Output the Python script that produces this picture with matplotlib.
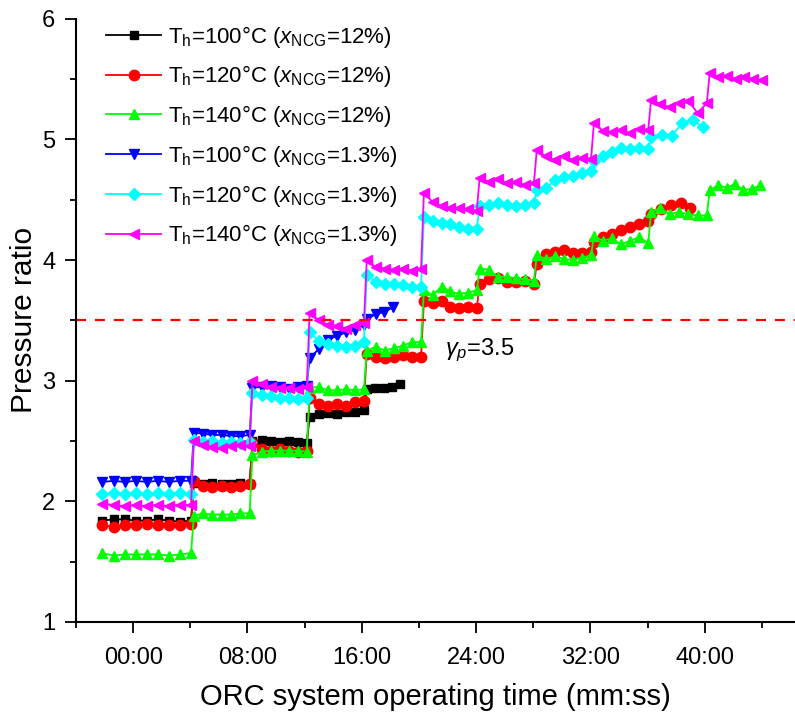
import numpy as np
import matplotlib
matplotlib.use("Agg")
import matplotlib.pyplot as plt
from matplotlib.ticker import FuncFormatter, MultipleLocator

plt.rcParams["font.family"] = ["Liberation Sans", "DejaVu Sans"]
plt.rcParams["mathtext.fontset"] = "custom"
plt.rcParams["mathtext.rm"] = "Liberation Sans"
plt.rcParams["mathtext.it"] = "Liberation Sans:italic"

# step start times (minutes); each setpoint lasts ~4 min
STEP_START = [-2.3, 4.1, 8.2, 12.2, 16.2, 20.2, 24.1, 28.1, 32.1, 36.1, 40.2]

LABELS = [
    r"T$_{\rm h}$=100°C ($x_{\rm NCG}$=12%)",
    r"T$_{\rm h}$=120°C ($x_{\rm NCG}$=12%)",
    r"T$_{\rm h}$=140°C ($x_{\rm NCG}$=12%)",
    r"T$_{\rm h}$=100°C ($x_{\rm NCG}$=1.3%)",
    r"T$_{\rm h}$=120°C ($x_{\rm NCG}$=1.3%)",
    r"T$_{\rm h}$=140°C ($x_{\rm NCG}$=1.3%)",
]

# pressure ratio readings per step
black_steps = [
    [1.84, 1.85, 1.85, 1.84, 1.84, 1.85, 1.84, 1.83, 1.84],
    [2.15, 2.14, 2.15, 2.14, 2.14, 2.15, 2.14],
    [2.50, 2.51, 2.50, 2.49, 2.50, 2.49, 2.48],
    [2.70, 2.72, 2.73, 2.72, 2.74, 2.74, 2.76],
    [2.93, 2.94, 2.94, 2.95, 2.97],
]
red_steps = [
    [1.80, 1.79, 1.80, 1.80, 1.81, 1.80, 1.80, 1.80, 1.81],
    [2.17, 2.13, 2.12, 2.13, 2.12, 2.13, 2.14],
    [2.48, 2.43, 2.42, 2.43, 2.42, 2.41, 2.42],
    [2.86, 2.81, 2.79, 2.81, 2.79, 2.82, 2.83],
    [3.22, 3.20, 3.19, 3.20, 3.21, 3.20, 3.20],
    [3.66, 3.64, 3.66, 3.61, 3.60, 3.61, 3.60],
    [3.80, 3.84, 3.85, 3.82, 3.82, 3.83, 3.80],
    [3.97, 4.05, 4.07, 4.08, 4.06, 4.06, 4.07],
    [4.15, 4.19, 4.22, 4.25, 4.27, 4.30, 4.32],
    [4.38, 4.42, 4.46, 4.47, 4.43],
]
green_steps = [
    [1.57, 1.55, 1.56, 1.56, 1.56, 1.56, 1.55, 1.56, 1.57],
    [1.88, 1.90, 1.89, 1.89, 1.89, 1.90, 1.90],
    [2.38, 2.41, 2.42, 2.42, 2.42, 2.42, 2.41],
    [2.94, 2.95, 2.92, 2.92, 2.93, 2.92, 2.93],
    [3.25, 3.28, 3.25, 3.27, 3.29, 3.32, 3.32],
    [3.75, 3.71, 3.78, 3.74, 3.72, 3.73, 3.75],
    [3.93, 3.92, 3.86, 3.86, 3.85, 3.84, 3.83],
    [4.04, 4.01, 4.03, 4.01, 4.00, 4.02, 4.04],
    [4.20, 4.16, 4.18, 4.13, 4.16, 4.19, 4.14],
    [4.40, 4.43, 4.38, 4.40, 4.38, 4.37, 4.37],
    [4.58, 4.62, 4.60, 4.63, 4.58, 4.59, 4.62],
]
blue_steps = [
    [2.16, 2.17, 2.16, 2.17, 2.16, 2.17, 2.16, 2.17, 2.17],
    [2.57, 2.56, 2.55, 2.55, 2.54, 2.54, 2.55],
    [2.94, 2.95, 2.96, 2.95, 2.93, 2.95, 2.96],
    [3.19, 3.26, 3.34, 3.37, 3.40, 3.42, 3.46],
    [3.51, 3.55, 3.57, 3.61],
]
cyan_steps = [
    [2.06, 2.07, 2.06, 2.07, 2.06, 2.07, 2.06, 2.07, 2.06],
    [2.51, 2.49, 2.50, 2.48, 2.49, 2.48, 2.49],
    [2.90, 2.88, 2.87, 2.86, 2.86, 2.85, 2.86],
    [3.40, 3.33, 3.30, 3.29, 3.28, 3.29, 3.32],
    [3.88, 3.82, 3.80, 3.80, 3.79, 3.78, 3.78],
    [4.36, 4.32, 4.31, 4.30, 4.27, 4.26, 4.26],
    [4.45, 4.46, 4.47, 4.46, 4.45, 4.46, 4.47],
    [4.58, 4.60, 4.66, 4.69, 4.70, 4.72, 4.74],
    [4.82, 4.86, 4.90, 4.93, 4.92, 4.93, 4.92],
    [5.02, 5.04, 5.03, 5.14, 5.16, 5.10],
]
magenta_steps = [
    [1.98, 1.97, 1.96, 1.97, 1.96, 1.97, 1.96, 1.97, 1.97],
    [2.50, 2.47, 2.45, 2.44, 2.46, 2.47, 2.46],
    [3.00, 2.97, 2.95, 2.94, 2.94, 2.93, 2.95],
    [3.56, 3.50, 3.46, 3.45, 3.43, 3.46, 3.48],
    [4.00, 3.94, 3.93, 3.92, 3.93, 3.91, 3.93],
    [4.56, 4.48, 4.45, 4.43, 4.43, 4.42, 4.41],
    [4.68, 4.65, 4.67, 4.64, 4.65, 4.62, 4.64],
    [4.91, 4.86, 4.83, 4.86, 4.83, 4.85, 4.84],
    [5.14, 5.07, 5.06, 5.08, 5.05, 5.09, 5.08],
    [5.33, 5.29, 5.27, 5.30, 5.32, 5.22, 5.30],
    [5.55, 5.52, 5.53, 5.50, 5.52, 5.50, 5.49],
]
END_TIME = [18.7, 39.0, 43.9, 18.2, 39.9, 44.0]

COLORS = ["#000000", "#ff0000", "#00ff00", "#0000ff", "#00ffff", "#ff00ff"]
MARKERS = ["s", "o", "^", "v", "D", "<"]
MSIZE = [5.5, 7.5, 7.5, 7.5, 6.5, 7.5]


def build(steps, t_end):
    t, y = [], []
    for k, vals in enumerate(steps):
        t0 = STEP_START[k] + 0.15
        t1 = t_end if k + 1 == len(steps) else STEP_START[k + 1] - 0.05
        t.extend(np.linspace(t0, t1, len(vals)))
        y.extend(vals)
    return np.array(t), np.array(y)


fig = plt.figure(figsize=(7.95, 7.24), dpi=100)
ax = fig.add_axes([0.0956, 0.141, 0.904, 0.833])

all_steps = [black_steps, red_steps, green_steps, blue_steps, cyan_steps, magenta_steps]
for steps, t_end, c, m, ms, lab in zip(all_steps, END_TIME, COLORS, MARKERS, MSIZE, LABELS):
    t, y = build(steps, t_end)
    ax.plot(t, y, color=c, marker=m, markersize=ms, lw=1.3, label=lab)

ax.axhline(3.5, color="#ff0000", lw=1.6, ls=(0, (4.5, 4)))
ax.text(21.8, 3.25, r"$\gamma_p$=3.5", fontsize=17, va="center", ha="left")

ax.set_xlim(-4, 46.3)
ax.set_ylim(1, 6)
ax.xaxis.set_major_locator(MultipleLocator(8))
ax.xaxis.set_minor_locator(MultipleLocator(4))
ax.yaxis.set_major_locator(MultipleLocator(1))
ax.yaxis.set_minor_locator(MultipleLocator(0.5))
ax.xaxis.set_major_formatter(FuncFormatter(lambda v, _: f"{int(round(v)):02d}:00"))
ax.tick_params(which="major", length=8, width=1.3, direction="out")
ax.tick_params(which="minor", length=4.5, width=1.3, direction="out")
ax.tick_params(axis="x", which="major", labelsize=17, pad=10)
ax.tick_params(axis="y", which="major", labelsize=17, pad=7)

for side in ("top", "right"):
    ax.spines[side].set_visible(False)
for side in ("left", "bottom"):
    ax.spines[side].set_linewidth(1.5)

ax.set_xlabel("ORC system operating time (mm:ss)", fontsize=21, labelpad=10)
ax.set_ylabel("Pressure ratio", fontsize=21.5, labelpad=3)

ax.legend(loc="upper left", bbox_to_anchor=(0.02, 1.018), frameon=False, fontsize=16,
          handlelength=2.5, labelspacing=0.62, handletextpad=0.3, borderpad=0.2)

fig.savefig("out.png", dpi=100)
